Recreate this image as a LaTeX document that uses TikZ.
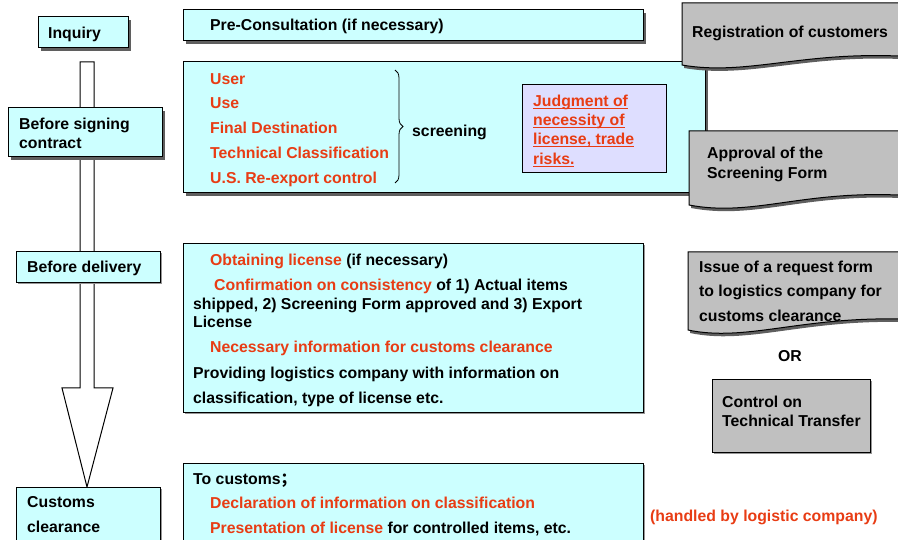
\documentclass[tikz,border=0pt]{standalone}
\usepackage{fontspec}
\setmainfont{Liberation Sans}
\newfontfamily\cjkf{Noto Sans CJK SC}
\usetikzlibrary{shadows,decorations.pathreplacing}
\definecolor{cyanc}{RGB}{204,255,255}
\definecolor{lavc}{RGB}{222,222,255}
\definecolor{grayc}{RGB}{192,192,192}
\definecolor{redc}{RGB}{232,60,20}
\definecolor{shdark}{RGB}{95,95,95}
\definecolor{shlight}{RGB}{150,150,150}
\newcommand\myul[1]{\setbox0\hbox{#1}\rlap{\rule[-2.4pt]{\wd0}{1.1pt}}\box0}
\begin{document}
\begin{tikzpicture}[x=1pt,y=-1pt,
  box/.style={draw=black, line width=1pt, inner sep=0pt, outer sep=0pt, anchor=north west},
  cbox/.style={box, fill=cyanc},
  shd/.style={drop shadow={shadow xshift=3pt, shadow yshift=-3pt, fill=shdark, opacity=1}},
  lshd/.style={drop shadow={shadow xshift=1.5pt, shadow yshift=-1.5pt, fill=shlight, opacity=1}},
  txt/.style={anchor=base west, inner sep=0pt, font=\fontsize{15.8}{19}\selectfont\bfseries},
  rtxt/.style={txt, text=redc},
  docshape/.style={draw=black, line width=1pt, fill=grayc},
  docshadow/.style={fill=shdark, shift={(2,3)}},
]
\useasboundingbox (0,0) rectangle (898,540);

% big arrow
\draw[fill=white, line width=1pt] (80,62) -- (94,62) -- (94,388) -- (113,388) -- (87,487) -- (62,388) -- (80,388) -- cycle;

% left stage boxes
\node[cbox,shd,minimum width=90,minimum height=31] (inq) at (38,17) {};
\node[cbox,shd,minimum width=154,minimum height=49] (bsc) at (8,108) {};
\node[cbox,lshd,minimum width=144,minimum height=31] (bdl) at (16,252) {};
\node[cbox,lshd,minimum width=144,minimum height=60] (cus) at (16,487) {};

% content boxes
\node[cbox,shd,minimum width=460,minimum height=31] (pre) at (183,10) {};
\node[cbox,shd,minimum width=522,minimum height=131] (scr) at (183,62) {};
\node[box,fill=lavc,minimum width=144,minimum height=88] (jud) at (522,85) {};
\node[cbox,lshd,minimum width=460,minimum height=168] (dlv) at (183,244) {};
\node[cbox,lshd,minimum width=460,minimum height=80] (toc) at (183,463) {};

% document shapes
\fill[docshadow] (682,3) -- (905,3) -- (905,56) -- (898,56) .. controls (800,52) and (745,76) .. (682,65) -- cycle;
\draw[docshape] (682,3) -- (905,3) -- (905,56) -- (898,56) .. controls (800,52) and (745,76) .. (682,65) -- cycle;
\fill[docshadow] (689,131) -- (905,131) -- (905,195) -- (898,195) .. controls (800,191) and (752,217) .. (689,205) -- cycle;
\draw[docshape] (689,131) -- (905,131) -- (905,195) -- (898,195) .. controls (800,191) and (752,217) .. (689,205) -- cycle;
\fill[docshadow] (688,252) -- (905,252) -- (905,319) -- (898,319) .. controls (800,317) and (745,342) .. (688,330) -- cycle;
\draw[docshape] (688,252) -- (905,252) -- (905,319) -- (898,319) .. controls (800,317) and (745,342) .. (688,330) -- cycle;

\node[box,fill=grayc,lshd,minimum width=158,minimum height=72] (ctt) at (712,380) {};

% brace
\draw[line width=0.8pt, decorate, decoration={brace, amplitude=8pt}] (395,70) -- (395,183);

% texts
\node[txt] (t-inq) at (48,39) {Inquiry};
\node[txt] (t-pre) at (210,31) {Pre-Consultation (if necessary)};
\node[txt] (t-reg) at (692,38) {Registration of customers};
\node[txt] (t-bsc1) at (19,130) {Before signing};
\node[txt] (t-bsc2) at (19,149) {contract};
\node[rtxt] (t-s1) at (210,85) {User};
\node[rtxt] (t-s2) at (210,109) {Use};
\node[rtxt] (t-s3) at (210,134) {Final Destination};
\node[rtxt] (t-s4) at (210,159) {Technical Classification};
\node[rtxt] (t-s5) at (210,184) {U.S. Re-export control};
\node[txt] (t-scr) at (412,137) {screening};
\node[rtxt] (t-j1) at (533,107) {\myul{Judgment of}};
\node[rtxt] (t-j2) at (533,126) {\myul{necessity of}};
\node[rtxt] (t-j3) at (533,145) {\myul{license, trade}};
\node[rtxt] (t-j4) at (533,165) {\myul{risks.}};
\node[txt] (t-ap1) at (707,159) {Approval of the};
\node[txt] (t-ap2) at (707,179) {Screening Form};
\node[txt] (t-bdl) at (27,273) {Before delivery};
\node[txt] (t-d1) at (210,266) {{\color{redc}Obtaining license} (if necessary)};
\node[txt] (t-d2) at (214,291) {{\color{redc}Confirmation on consistency} of 1) Actual items};
\node[txt] (t-d3) at (193,310) {shipped, 2) Screening Form approved and 3) Export};
\node[txt] (t-d4) at (193,328) {License};
\node[rtxt] (t-d5) at (210,353) {Necessary information for customs clearance};
\node[txt] (t-d6) at (193,378) {Providing logistics company with information on};
\node[txt] (t-d7) at (193,403) {classification, type of license etc.};
\node[txt] (t-is1) at (699,273) {Issue of a request form};
\node[txt] (t-is2) at (699,297) {to logistics company for};
\node[txt] (t-is3) at (699,322) {customs clearance};
\node[txt, anchor=base] (t-or) at (790,362) {OR};
\node[txt] (t-c1) at (722,407) {Control on};
\node[txt] (t-c2) at (722,427) {Technical Transfer};
\node[txt] (t-cu1) at (27,507) {Customs};
\node[txt] (t-cu2) at (27,532) {clearance};
\node[txt] (t-to) at (193,484) {To customs{\cjkf ；}};
\node[rtxt] (t-to1) at (210,508) {Declaration of information on classification};
\node[txt] (t-to2) at (210,533) {{\color{redc}Presentation of license} for controlled items, etc.};
\node[rtxt] (t-hd) at (650,521) {(handled by logistic company)};
\end{tikzpicture}
\end{document}
